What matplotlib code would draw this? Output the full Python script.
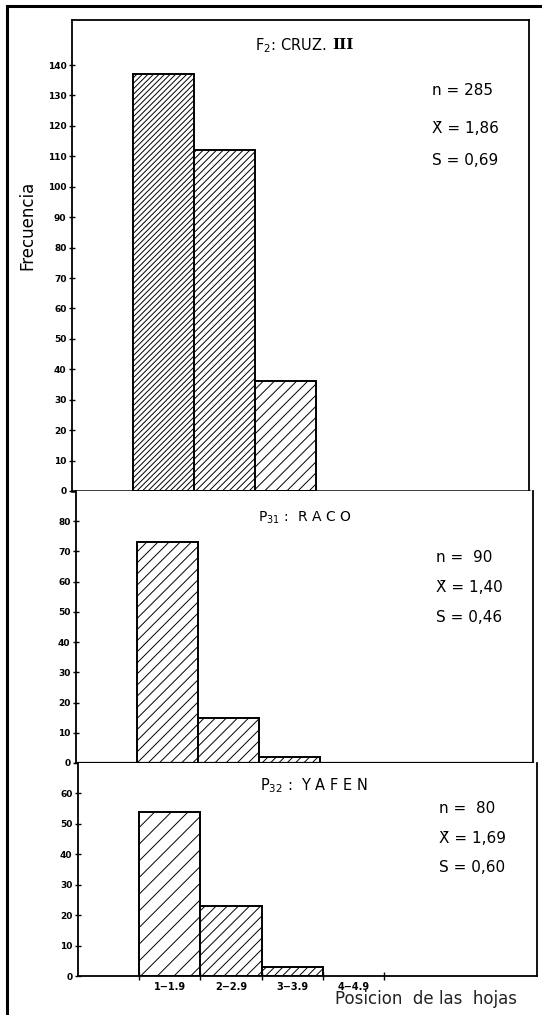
import matplotlib.pyplot as plt
from matplotlib.lines import Line2D

plt.rcParams['hatch.linewidth'] = 0.7

# frequencies per leaf-position class
classes = ['1\u22121.9', '2\u22122.9', '3\u22123.9', '4\u22124.9']
bin_left = [1, 2, 3]
cruz_counts = [137, 112, 36]
raco_counts = [73, 15, 2]
yafen_counts = [54, 23, 3]

stats_cruz = ['n = 285', 'X\u0304 = 1,86', 'S = 0,69']
stats_raco = ['n =  90', 'X\u0304 = 1,40', 'S = 0,46']
stats_yafen = ['n =  80', 'X\u0304 = 1,69', 'S = 0,60']

W, H = 542, 1015
fig = plt.figure(figsize=(W / 100, H / 100), dpi=100)

def px_axes(left, right, top, bottom):
    return fig.add_axes([left / W, 1 - bottom / H, (right - left) / W, (bottom - top) / H])

ax1 = px_axes(72, 529, 20, 491)
ax2 = px_axes(76, 533, 491, 763)
ax3 = px_axes(78, 537, 763, 976)

panels = [
    (ax1, cruz_counts, 154.8, range(0, 141, 10), ['//////', '/////', '///'], stats_cruz, [131.5, 119, 108.5]),
    (ax2, raco_counts, 90, range(0, 81, 10), ['///', '///', '////'], stats_raco, [68, 58, 48]),
    (ax3, yafen_counts, 70, range(0, 61, 10), ['//', '///', '////'], stats_yafen, [55, 45.3, 35.8]),
]

for ax, counts, ytop, yticks, hatches, stats, ys in panels:
    for x, c, h in zip(bin_left, counts, hatches):
        ax.bar(x, c, width=1, align='edge', facecolor='white',
               edgecolor='black', linewidth=1.4, hatch=h)
    ax.set_xlim(0, 7.5)
    ax.set_ylim(0, ytop)
    ax.set_yticks(list(yticks))
    ax.tick_params(axis='y', direction='inout', length=4, width=1,
                   labelsize=6.5, pad=2)
    for lab in ax.get_yticklabels():
        lab.set_fontweight('bold')
    ax.set_xticks([])
    for s in ax.spines.values():
        s.set_linewidth(1.3)
    if ax is not ax1:
        ax.spines['top'].set_visible(False)
    for s, y in zip(stats, ys):
        ax.text(5.9, y, s, fontsize=11, va='center', ha='left')

ax1.spines['bottom'].set_linewidth(1.8)
ax2.spines['bottom'].set_linewidth(1.6)

# titles
ax1.text(3.0, 146.5, 'F$_2$: CRUZ.', fontsize=10.5, va='center', ha='left')
ax1.text(4.27, 146.5, 'III', fontsize=11, va='center', ha='left',
         family='DejaVu Serif', fontweight='bold')
ax2.text(2.98, 81, 'P$_{31}$ :  R A C O', fontsize=10, va='center', ha='left')
ax3.text(2.98, 62.5, 'P$_{32}$ :  Y A F E N', fontsize=10.5, va='center', ha='left')

ax1.set_ylabel('Frecuencia', fontsize=12)
ax1.yaxis.set_label_coords(-0.077, 0.565)

# x classes on the bottom panel
ax3.set_xticks([1, 2, 3, 4, 5], minor=True)
ax3.tick_params(axis='x', which='minor', direction='inout', length=6, width=1)
ax3.set_xticks([1.5, 2.5, 3.5, 4.5])
ax3.set_xticklabels(classes, fontsize=7, fontweight='bold')
ax3.tick_params(axis='x', which='major', length=0, pad=4)
ax3.text(4.2, -0.11, 'Posicion  de las  hojas', transform=ax3.get_xaxis_transform(),
         fontsize=12, ha='left', va='center', color='#222222')

# outer frame of the plate
fig.add_artist(Line2D([7 / W, 7 / W], [0, 1 - 6 / H], color='black', linewidth=2.2))
fig.add_artist(Line2D([7 / W, 1], [1 - 6 / H, 1 - 6 / H], color='black', linewidth=2.2))

fig.savefig('out.png', dpi=100)
